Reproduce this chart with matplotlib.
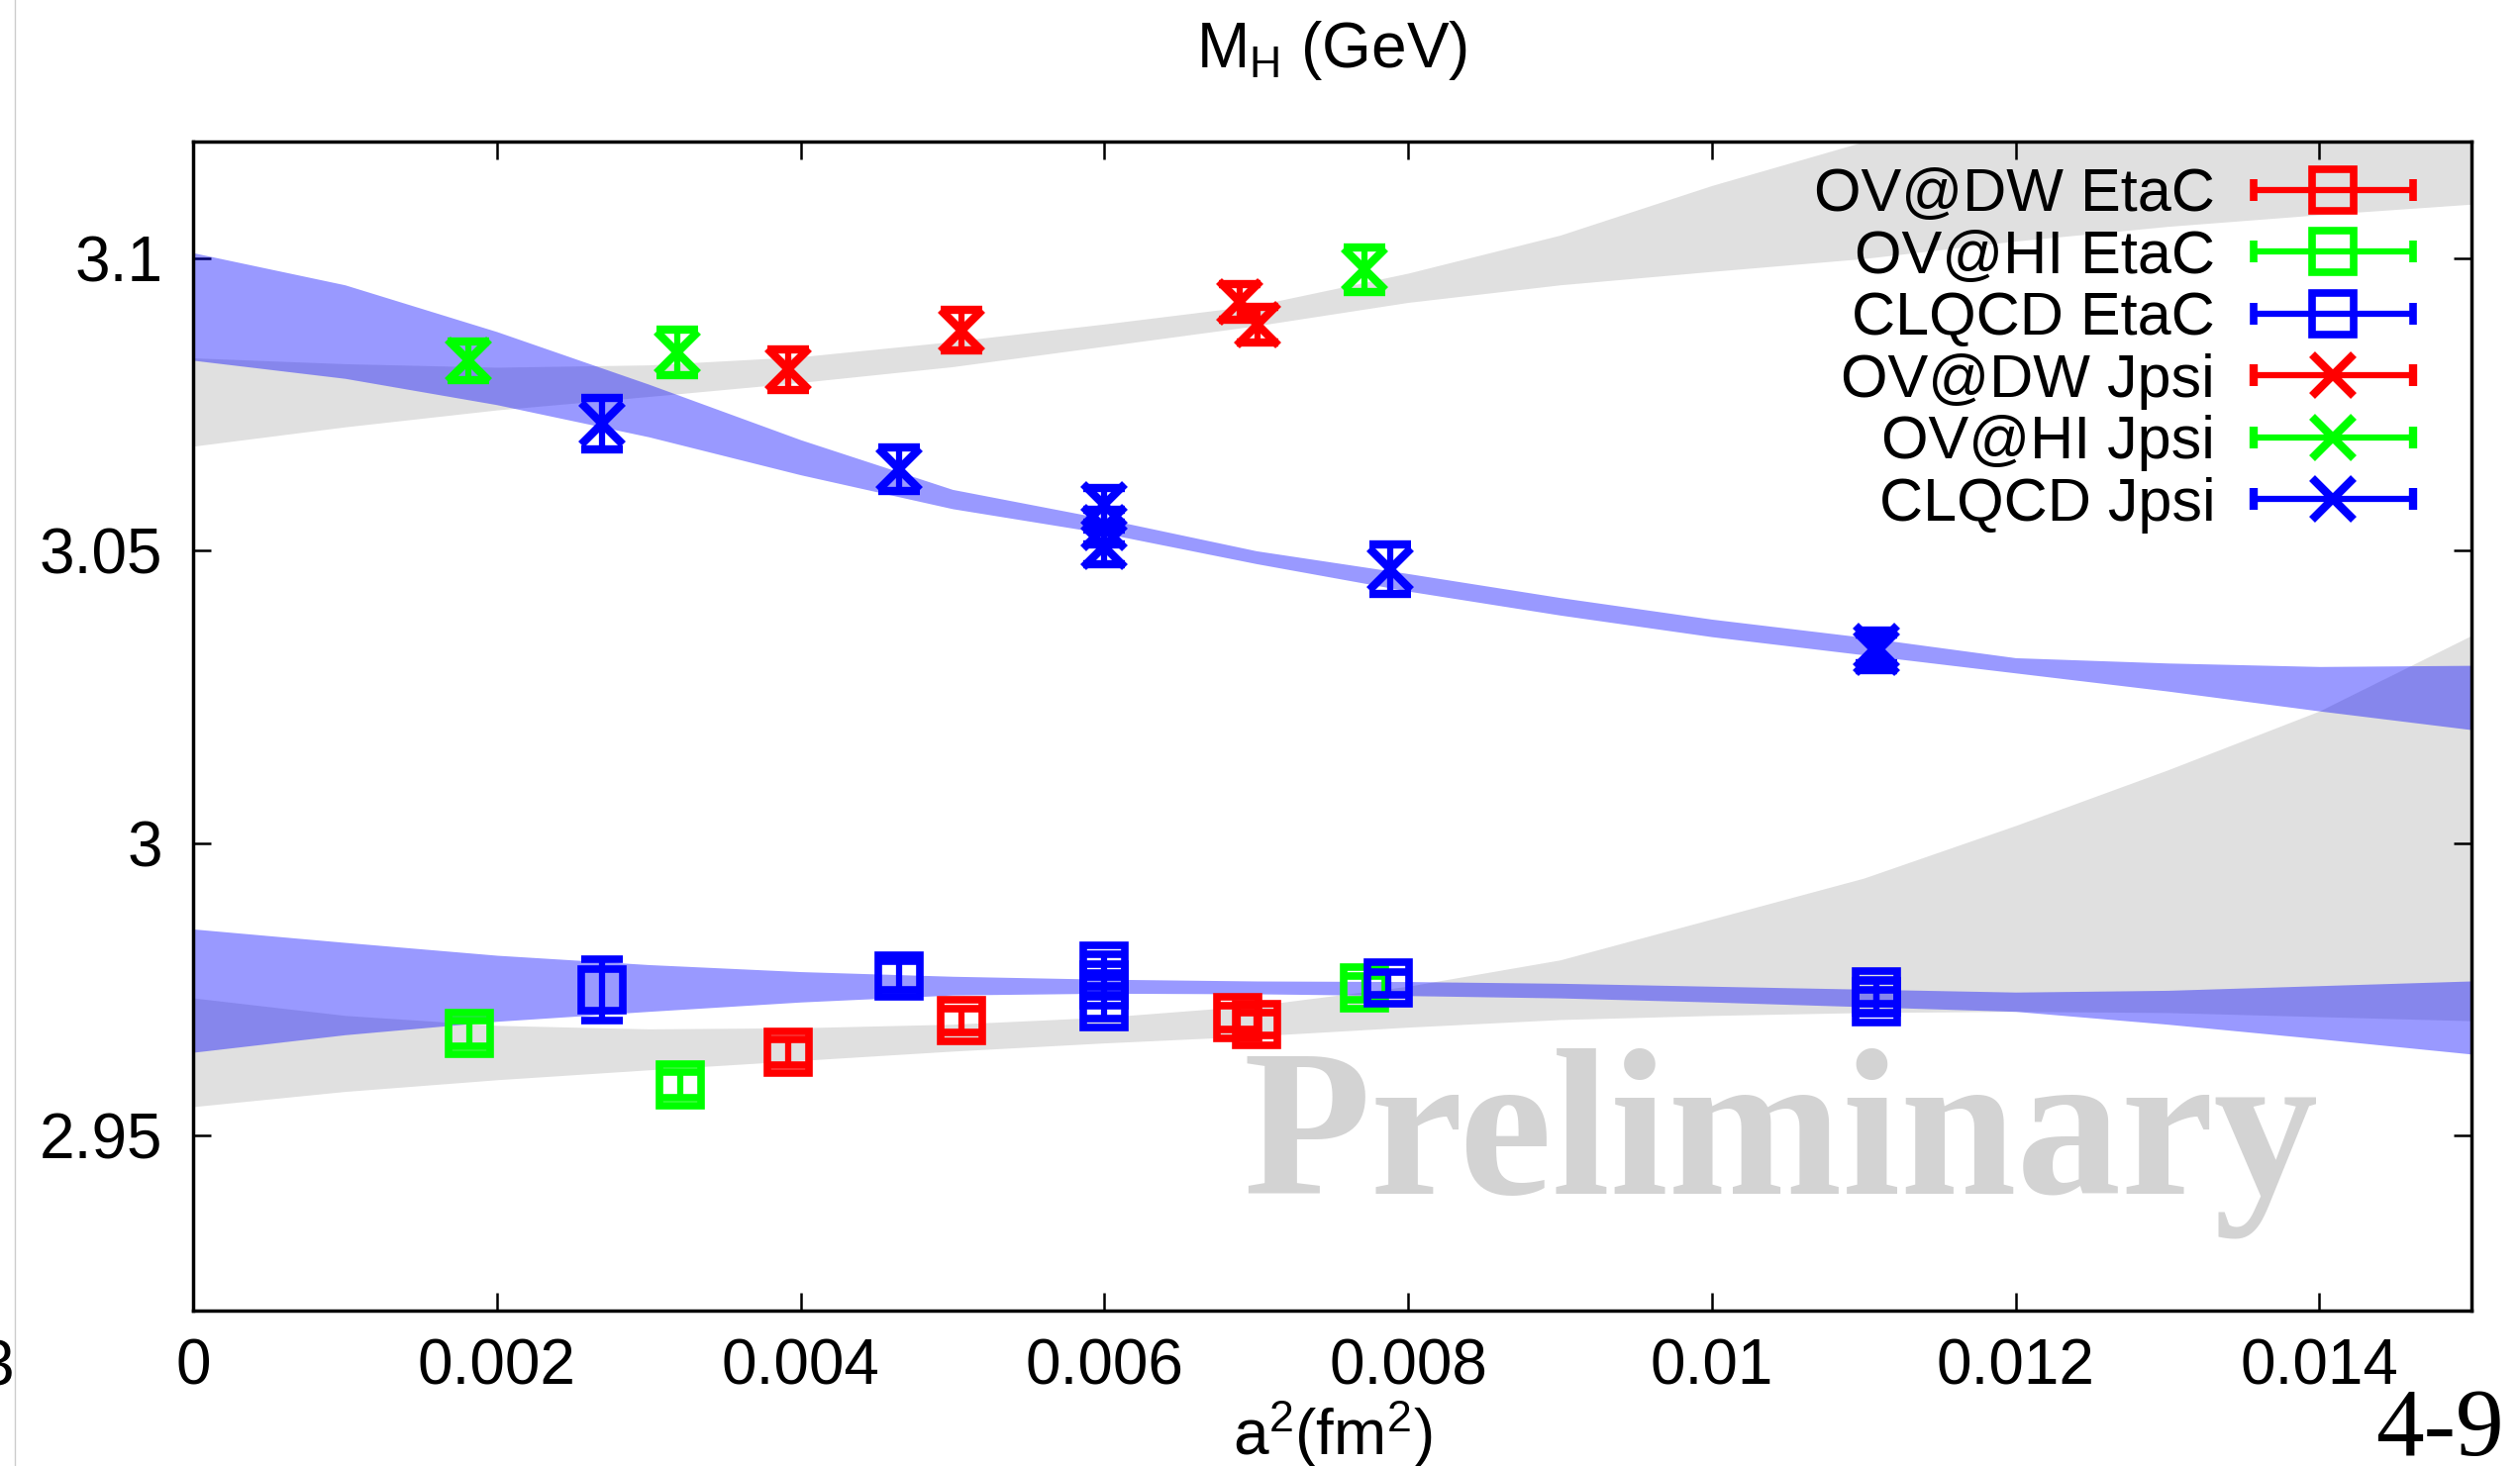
import numpy as np
import matplotlib
matplotlib.use("Agg")
import matplotlib.pyplot as plt
from matplotlib.lines import Line2D
from matplotlib.container import ErrorbarContainer
from matplotlib.legend_handler import HandlerErrorbar

plt.rcParams["font.family"] = ["Liberation Sans", "DejaVu Sans"]
plt.rcParams["mathtext.fontset"] = "custom"
plt.rcParams["mathtext.rm"] = "Liberation Sans"
plt.rcParams["mathtext.it"] = "Liberation Sans:italic"

# fit bands (edges)
band_x = [0.000, 0.001, 0.002, 0.003, 0.004, 0.005, 0.006, 0.007,
          0.008, 0.009, 0.010, 0.011, 0.012, 0.013, 0.014, 0.015]
ov_jpsi_hi = [3.0830, 3.0820, 3.0814, 3.0818, 3.0832, 3.0858, 3.0888, 3.0920,
              3.0975, 3.1040, 3.1125, 3.1200, 3.1270, 3.1330, 3.1390, 3.1450]
ov_jpsi_lo = [3.0679, 3.0712, 3.0741, 3.0764, 3.0788, 3.0815, 3.0850, 3.0885,
              3.0925, 3.0955, 3.0978, 3.1000, 3.1030, 3.1055, 3.1075, 3.1093]
cl_jpsi_hi = [3.1010, 3.0955, 3.0875, 3.0785, 3.0690, 3.0605, 3.0555, 3.0500,
              3.0461, 3.0420, 3.0383, 3.0352, 3.0317, 3.0308, 3.0302, 3.0304]
cl_jpsi_lo = [3.0826, 3.0795, 3.0750, 3.0695, 3.0630, 3.0572, 3.0530, 3.0478,
              3.0431, 3.0390, 3.0353, 3.0322, 3.0291, 3.0260, 3.0226, 3.0194]
ov_etac_hi = [2.9735, 2.9705, 2.9688, 2.9682, 2.9684, 2.9690, 2.9702, 2.9722,
              2.9755, 2.9800, 2.9870, 2.9940, 3.0030, 3.0125, 3.0226, 3.0355]
ov_etac_lo = [2.9549, 2.9575, 2.9595, 2.9612, 2.9628, 2.9644, 2.9658, 2.9670,
              2.9685, 2.9698, 2.9705, 2.9710, 2.9712, 2.9710, 2.9703, 2.9696]
cl_etac_hi = [2.9853, 2.9830, 2.9808, 2.9792, 2.9780, 2.9772, 2.9767, 2.9764,
              2.9763, 2.9760, 2.9755, 2.9750, 2.9745, 2.9748, 2.9756, 2.9764]
cl_etac_lo = [2.9642, 2.9672, 2.9695, 2.9712, 2.9728, 2.9740, 2.9743, 2.9742,
              2.9739, 2.9735, 2.9728, 2.9720, 2.9712, 2.9690, 2.9665, 2.9639]

# data points
dw_etac_x = [0.00392, 0.00506, 0.00688, 0.00700]
dw_etac_y = [2.9642, 2.9696, 2.9701, 2.9690]
dw_etac_e = [0.0022, 0.0020, 0.0020, 0.0020]
hi_etac_x = [0.00182, 0.00321, 0.00771]
hi_etac_y = [2.9675, 2.9586, 2.9752]
hi_etac_e = [0.0022, 0.0022, 0.0020]
cl_etac_x = [0.00269, 0.00465, 0.0060, 0.0060, 0.0060, 0.00787, 0.01108, 0.01108]
cl_etac_y = [2.9749, 2.9773, 2.9790, 2.9757, 2.9720, 2.9760, 2.9745, 2.9728]
cl_etac_e = [0.0052, 0.0025, 0.0020, 0.0020, 0.0020, 0.0020, 0.0020, 0.0020]

dw_jpsi_x = [0.00392, 0.00506, 0.00689, 0.00701]
dw_jpsi_y = [3.0810, 3.0877, 3.0926, 3.0887]
dw_jpsi_e = [0.0035, 0.0035, 0.0030, 0.0030]
hi_jpsi_x = [0.00181, 0.00319, 0.00771]
hi_jpsi_y = [3.0825, 3.0839, 3.0981]
hi_jpsi_e = [0.0033, 0.0039, 0.0038]
cl_jpsi_x = [0.00269, 0.00465, 0.0060, 0.0060, 0.0060, 0.00788, 0.01108, 0.01108]
cl_jpsi_y = [3.0717, 3.0640, 3.0578, 3.0540, 3.0507, 3.0468, 3.0336, 3.0326]
cl_jpsi_e = [0.0044, 0.0037, 0.0030, 0.0030, 0.0030, 0.0042, 0.0028, 0.0030]

labels = ["OV@DW EtaC", "OV@HI EtaC", "CLQCD EtaC",
          "OV@DW Jpsi", "OV@HI Jpsi", "CLQCD Jpsi"]

xticks = [0, 0.002, 0.004, 0.006, 0.008, 0.010, 0.012, 0.014]
xticklabels = ["0", "0.002", "0.004", "0.006", "0.008", "0.01", "0.012", "0.014"]
yticks = [2.95, 3.0, 3.05, 3.1]
yticklabels = ["2.95", "3", "3.05", "3.1"]

fig = plt.figure(figsize=(25.45, 14.81), dpi=100)
ax = fig.add_axes([0.0766, 0.1060, 0.9041, 0.7974])

gray = "#e0e0e0"
ax.fill_between(band_x, ov_jpsi_lo, ov_jpsi_hi, color=gray, lw=0, zorder=1)
ax.fill_between(band_x, ov_etac_lo, ov_etac_hi, color=gray, lw=0, zorder=1)
ax.fill_between(band_x, cl_jpsi_lo, cl_jpsi_hi, color="blue", alpha=0.4, lw=0, zorder=2)
ax.fill_between(band_x, cl_etac_lo, cl_etac_hi, color="blue", alpha=0.4, lw=0, zorder=2)

sq = dict(fmt="s", ms=30, mfc="none", mew=5.5, elinewidth=4.5, capthick=4.5)
xx = dict(fmt="x", ms=30, mew=6, elinewidth=4.5, capthick=4.5)

series = [
    (dw_etac_x, dw_etac_y, dw_etac_e, "red", sq),
    (hi_etac_x, hi_etac_y, hi_etac_e, "lime", sq),
    (cl_etac_x, cl_etac_y, cl_etac_e, "blue", sq),
    (dw_jpsi_x, dw_jpsi_y, dw_jpsi_e, "red", xx),
    (hi_jpsi_x, hi_jpsi_y, hi_jpsi_e, "lime", xx),
    (cl_jpsi_x, cl_jpsi_y, cl_jpsi_e, "blue", xx),
]

handles = []
for i, (x, y, e, c, st) in enumerate(series):
    ax.errorbar(x, y, yerr=e, color=c, capsize=15, zorder=3 + i, **st)
    # legend proxy, gnuplot-like horizontal bar
    h = ax.errorbar([np.nan], [np.nan], xerr=[0.001], color=c, capsize=8,
                    label=labels[i], **st)
    handles.append(h)

leg = ax.legend(handles=handles, loc="upper right", bbox_to_anchor=(0.9752, 0.978),
                markerfirst=False, frameon=False, fontsize=44, borderpad=0,
                borderaxespad=0, handlelength=2.7, handletextpad=0.6,
                labelspacing=0.09,
                handler_map={ErrorbarContainer: HandlerErrorbar(xerr_size=1.32)})
leg.set_zorder(20)

ax.set_xlim(0, 0.015)
ax.set_ylim(2.92, 3.12)
ax.set_xticks(xticks)
ax.set_xticklabels(xticklabels)
ax.set_yticks(yticks)
ax.set_yticklabels(yticklabels)
ax.tick_params(direction="in", length=13, width=1.8, top=True, right=True, labelsize=46)
ax.tick_params(axis="x", pad=20)
ax.tick_params(axis="y", pad=22)
for s in ax.spines.values():
    s.set_linewidth(2.5)

ax.set_title(r"M$_{\rm H}$ (GeV)", fontsize=46, pad=54)
ax.set_xlabel(r"a$^2$(fm$^2$)", fontsize=46, labelpad=0)

ax.text(0.461, 0.1, "Preliminary", transform=ax.transAxes, fontsize=152,
        family="Liberation Serif", weight="bold", color="#d3d3d3",
        ha="left", va="baseline", zorder=0.5)

fig.text(0.9937, 0.0074, "4-9", family="Liberation Serif", fontsize=70,
         ha="right", va="baseline")
fig.text(0.0055, 0.0547, "3", fontsize=46, ha="right", va="baseline")
fig.add_artist(Line2D([15 / 2545] * 2, [0, 1], transform=fig.transFigure,
                      color="#cccccc", lw=1))

fig.savefig("out.png", dpi=100)
